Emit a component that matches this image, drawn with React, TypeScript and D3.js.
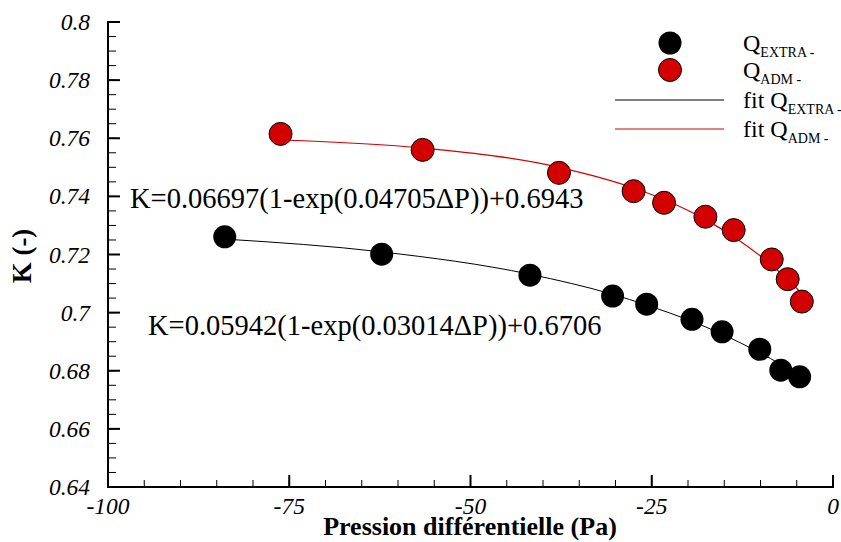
import React from 'react';
import * as d3 from 'd3';

const extraDP = [-83.9, -62.25, -41.8, -30.4, -25.7, -19.45, -15.3, -10.1, -7.2, -4.6];
const extraK = [0.7261, 0.7201, 0.7129, 0.7057, 0.7029, 0.6977, 0.6934, 0.6874, 0.6802, 0.6779];
const admDP = [-76.2, -56.6, -37.8, -27.5, -23.3, -17.6, -13.7, -8.45, -6.25, -4.3];
const admK = [0.7615, 0.756, 0.7481, 0.7418, 0.7378, 0.733, 0.7284, 0.7183, 0.7115, 0.7038];
const fitExtraK = [0.7253, 0.7209, 0.7132, 0.7063, 0.7026, 0.697, 0.6926, 0.6862, 0.6822, 0.6783];
const fitAdmK = [0.7594, 0.7566, 0.75, 0.7429, 0.7389, 0.732, 0.7261, 0.7163, 0.7114, 0.7066];
const xTicks = [-100, -75, -50, -25, 0];
const xTickLabels = ['-100', '-75', '-50', '-25', '0'];
const yTicks = [0.64, 0.66, 0.68, 0.7, 0.72, 0.74, 0.76, 0.78, 0.8];
const yTickLabels = ['0.64', '0.66', '0.68', '0.7', '0.72', '0.74', '0.76', '0.78', '0.8'];
const eqExtra = 'K=0.05942(1-exp(0.03014\u0394P))+0.6706';
const eqAdm = 'K=0.06697(1-exp(0.04705\u0394P))+0.6943';

const W = 841, H = 542;
const X0 = 108, X1 = 833, Y0 = 487, Y1 = 22;
const RED = '#d20000';
const SERIF = "'Liberation Serif', 'DejaVu Serif', serif";
const T = { fontFamily: SERIF };

export default function App() {
  const x = d3.scaleLinear().domain([-100, 0]).range([X0, X1]);
  const y = d3.scaleLinear().domain([0.64, 0.8]).range([Y0, Y1]);
  const xMinor = d3.range(-100, 0.001, 5);
  const yMinor = d3.range(0, 33).map(i => 0.64 + i * 0.005);
  const line = d3.line<[number, number]>().x(d => x(d[0])).y(d => y(d[1])).curve(d3.curveMonotoneX);
  const fitE = line(extraDP.map((v, i) => [v, fitExtraK[i]] as [number, number])) || '';
  const fitA = line(admDP.map((v, i) => [v, fitAdmK[i]] as [number, number])) || '';
  const r = 11.5;
  return (
    <svg width={W} height={H} style={{ position: 'absolute', left: 0, top: 0, background: '#fff', fontFamily: SERIF }}>
      {xMinor.map((v, i) => (
        <line key={'xm' + i} x1={x(v)} x2={x(v)} y1={Y0} y2={Y0 - 7} stroke="#000" strokeWidth={1} />
      ))}
      {yMinor.map((v, i) => (
        <line key={'ym' + i} x1={X0} x2={X0 + 8} y1={y(v)} y2={y(v)} stroke="#000" strokeWidth={1} />
      ))}
      {xTicks.map((v, i) => (
        <line key={'xt' + i} x1={x(v)} x2={x(v)} y1={Y0} y2={Y0 - 12} stroke="#000" strokeWidth={2} />
      ))}
      {yTicks.map((v, i) => (
        <line key={'yt' + i} x1={X0} x2={X0 + 12} y1={y(v)} y2={y(v)} stroke="#000" strokeWidth={2} />
      ))}
      <line x1={X0} x2={X0} y1={Y1 - 1} y2={Y0 + 1} stroke="#000" strokeWidth={2} />
      <line x1={X0 - 1} x2={X1 + 1} y1={Y0} y2={Y0} stroke="#000" strokeWidth={2} />
      {xTicks.map((v, i) => (
        <text key={'xl' + i} style={T} x={x(v)} y={514} textAnchor="middle" fontSize={23.5} fontStyle="italic">{xTickLabels[i]}</text>
      ))}
      {yTicks.map((v, i) => (
        <text key={'yl' + i} style={T} x={90} y={y(v) + 8} textAnchor="end" fontSize={23.5} fontStyle="italic">{yTickLabels[i]}</text>
      ))}
      <text style={T} x={470} y={535} textAnchor="middle" fontSize={26} fontWeight="bold">Pression différentielle (Pa)</text>
      <text style={T} transform="translate(31,256) rotate(-90)" textAnchor="middle" fontSize={27} fontWeight="bold">K (-)</text>

      <path d={fitE} fill="none" stroke="#000" strokeWidth={1} />
      <path d={fitA} fill="none" stroke={RED} strokeWidth={1.2} />
      {extraDP.map((v, i) => (
        <circle key={'e' + i} cx={x(v)} cy={y(extraK[i])} r={r} fill="#000" />
      ))}
      {admDP.map((v, i) => (
        <circle key={'a' + i} cx={x(v)} cy={y(admK[i])} r={r} fill={RED} stroke="#000" strokeWidth={1} />
      ))}

      <text style={T} x={130} y={208} fontSize={28.5}>{eqAdm}</text>
      <text style={T} x={148} y={335} fontSize={28.5}>{eqExtra}</text>

      <circle cx={670} cy={43} r={r} fill="#000" />
      <circle cx={670} cy={70} r={r} fill={RED} stroke="#000" strokeWidth={1} />
      <line x1={615} x2={724} y1={100} y2={100} stroke="#000" strokeWidth={1} />
      <line x1={615} x2={724} y1={129} y2={129} stroke={RED} strokeWidth={1.2} />
      <text style={T} x={743} y={51} fontSize={24}>Q<tspan fontSize={14} dy={6}>EXTRA -</tspan></text>
      <text style={T} x={743} y={78} fontSize={24}>Q<tspan fontSize={14} dy={6}>ADM -</tspan></text>
      <text style={T} x={743} y={108} fontSize={24}>fit Q<tspan fontSize={14} dy={6}>EXTRA -</tspan></text>
      <text style={T} x={743} y={137} fontSize={24}>fit Q<tspan fontSize={14} dy={6}>ADM -</tspan></text>
    </svg>
  );
}
